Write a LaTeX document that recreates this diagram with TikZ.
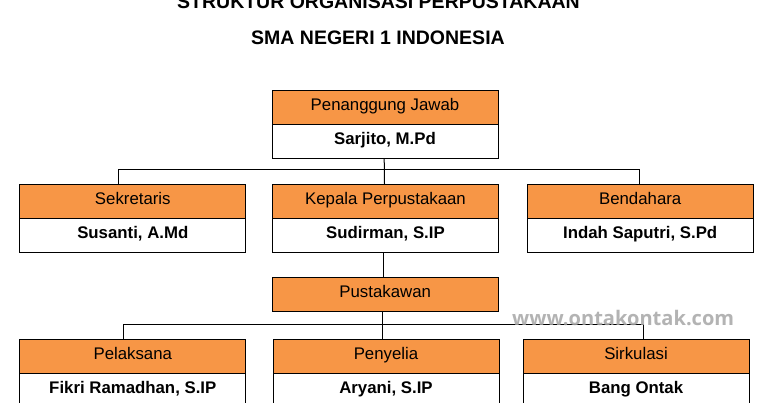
\documentclass[tikz,border=0pt]{standalone}
\usepackage{fontspec}
\usepackage{graphicx}
\setmainfont{Liberation Sans}
\newfontfamily\wmfont{Open Sans}
\definecolor{orangefill}{RGB}{247,150,70}
\begin{document}
\begin{tikzpicture}[x=1pt,y=-1pt,
  conn/.style={draw=black, line width=1pt},
  headbox/.style={draw=black, fill=orangefill, line width=1pt, minimum width=226pt, minimum height=34pt,
    inner sep=0pt, anchor=north west, text height=11pt, text depth=5pt, font=\fontsize{16.8}{19}\selectfont},
  namebox/.style={headbox, fill=white, font=\fontsize{16.8}{19}\selectfont\bfseries},
  titletext/.style={anchor=base, inner sep=0pt, font=\fontsize{19.5}{23}\selectfont\bfseries}
]
\useasboundingbox (0,0) rectangle (767,403);
\clip (0,0) rectangle (767,403);
\fill[white] (0,0) rectangle (767,403);

% titles
\node[titletext] (t1) at (378.5,9) {STRUKTUR ORGANISASI PERPUSTAKAAN};
\node[titletext] (t2) at (378,45) {SMA NEGERI 1 INDONESIA};

% row 0
\node[headbox] (pj) at (271.5,90) {Penanggung Jawab};
\node[namebox] (pjn) at (271.5,124) {Sarjito, M.Pd};

% row 1
\node[headbox] (sek) at (19.3,184.3) {Sekretaris};
\node[namebox] (sekn) at (19.3,218.3) {Susanti, A.Md};
\node[headbox] (kp) at (272,184.3) {Kepala Perpustakaan};
\node[namebox] (kpn) at (272,218.3) {Sudirman, S.IP};
\node[headbox] (bend) at (526.7,184.3) {Bendahara};
\node[namebox] (bendn) at (526.7,218.3) {Indah Saputri, S.Pd};

% pustakawan
\node[headbox] (pus) at (271.7,277.3) {Pustakawan};

% row 2
\node[headbox] (pel) at (19.3,339) {Pelaksana};
\node[namebox] (peln) at (19.3,372.5) {Fikri Ramadhan, S.IP};
\node[headbox] (pen) at (272.5,339) {Penyelia};
\node[namebox] (penn) at (272.5,372.5) {Aryani, S.IP};
\node[headbox] (sirk) at (522.5,339) {Sirkulasi};
\node[namebox] (sirkn) at (522.5,372.5) {Bang Ontak};

% connectors
\draw[conn] ([xshift=-0.8pt]pjn.south) -- ([xshift=-1pt]kp.north);
\draw[conn] ([xshift=-14.2pt]sek.north) -- ++(0,-15) -| ([xshift=-1.2pt]bend.north);
\draw[conn] ([xshift=-1.7pt]kpn.south) -- ([xshift=-1.4pt]pus.north);
\draw[conn] ([xshift=-2.4pt]pus.south) -- ([xshift=-3.2pt]pen.north);
\draw[conn] ([xshift=-9.8pt]pel.north) -- ++(0,-15) -| ([xshift=7.2pt]sirk.north);

% watermark
\node[anchor=base west, inner sep=0pt, text=black!35, opacity=0.85] (wm) at (512,325)
  {\resizebox{222pt}{!}{\wmfont\bfseries www.ontakontak.com}};
\end{tikzpicture}
\end{document}
